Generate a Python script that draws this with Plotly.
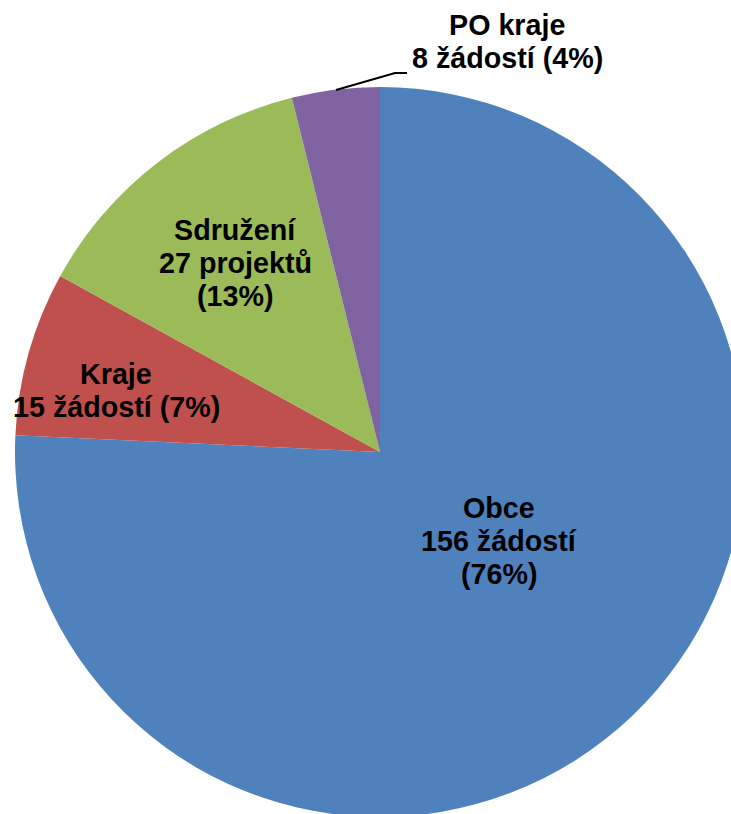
import plotly.graph_objects as go

# ---- data ----
categories = ["Obce", "Kraje", "Sdružení", "PO kraje"]
counts = [156, 15, 27, 8]
count_words = ["žádostí", "žádostí", "projektů", "žádostí"]
colors = ["#4F81BD", "#C0504D", "#9BBB59", "#8064A2"]

total = sum(counts)
pcts = [round(100 * c / total) for c in counts]

W, H = 760, 830

fig = go.Figure(
    go.Pie(
        labels=categories,
        values=counts,
        sort=False,
        direction="clockwise",
        rotation=0,
        marker=dict(colors=colors, line=dict(width=0)),
        textinfo="none",
        hoverinfo="label+value+percent",
        domain=dict(x=[15 / W, 745 / W], y=[(H - 817) / H, (H - 87) / H]),
        showlegend=False,
    )
)

# label layout (line grouping and pixel positions of label centres / baselines)
line_sets = []
for cat, n, w, p in zip(categories, counts, count_words, pcts):
    line_sets.append((cat, f"{n} {w}", f"({p}%)"))

label_specs = [
    # (lines, centre x px, first baseline px)
    ([line_sets[0][0], line_sets[0][1], line_sets[0][2]], 499, 518),
    ([line_sets[1][0], f"{line_sets[1][1]} {line_sets[1][2]}"], 116, 384),
    ([line_sets[2][0], line_sets[2][1], line_sets[2][2]], 235, 240),
    ([line_sets[3][0], f"{line_sets[3][1]} {line_sets[3][2]}"], 507, 35),
]

FS = 28.7
LS = 33
annotations = []
for lines, cx, by in label_specs:
    for i, t in enumerate(lines):
        base = by + i * LS
        ymid = base - 0.36 * FS
        annotations.append(
            dict(
                text=f"<b>{t}</b>",
                x=cx / W,
                y=1 - ymid / H,
                xref="paper",
                yref="paper",
                xanchor="center",
                yanchor="middle",
                showarrow=False,
                font=dict(family="Liberation Sans, Arial, sans-serif", size=FS, color="#000000"),
            )
        )

fig.update_layout(
    width=W,
    height=H,
    margin=dict(l=0, r=0, t=0, b=0),
    paper_bgcolor="#FFFFFF",
    plot_bgcolor="#FFFFFF",
    annotations=annotations,
    shapes=[
        dict(
            type="path",
            xref="paper",
            yref="paper",
            path=f"M {336 / W},{1 - 90 / H} L {395 / W},{1 - 73 / H} L {407 / W},{1 - 73 / H}",
            line=dict(color="#000000", width=2),
        )
    ],
)

fig.write_html(
    "out.html",
    config={"displayModeBar": False},
    post_script="document.body.style.margin='0';document.body.style.overflow='hidden';document.documentElement.style.overflow='hidden';",
)
